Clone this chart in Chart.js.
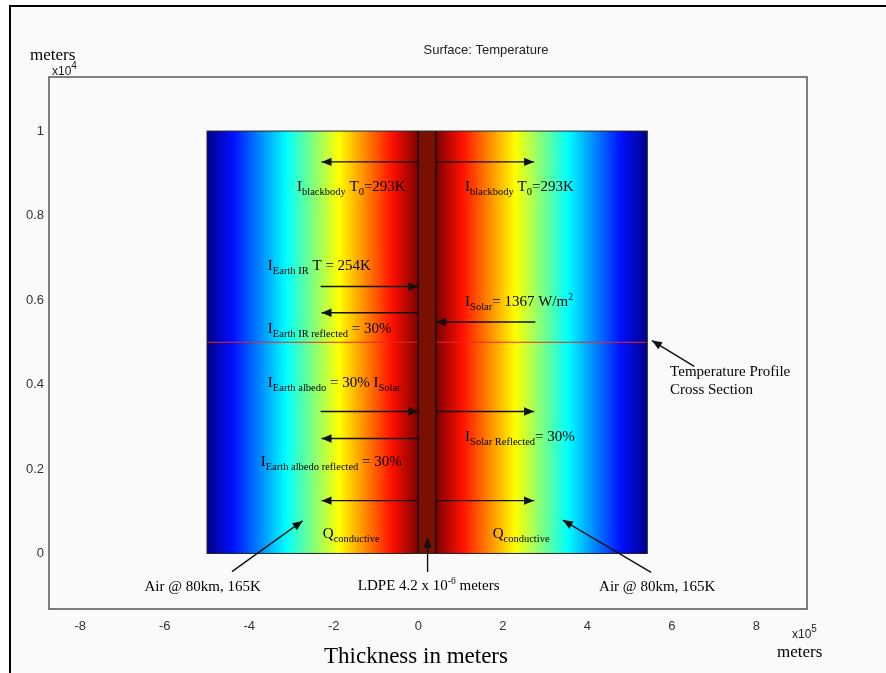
<!DOCTYPE html>
<html>
<head>
<meta charset="utf-8">
<title>Surface: Temperature</title>
<script src="https://cdn.jsdelivr.net/npm/chart.js@4.4.1/dist/chart.umd.min.js"></script>
<style>
  body { margin: 0; background: #fff; }
  #frame {
    position: absolute; left: 9px; top: 5px; width: 877px; height: 668px;
    border-left: 2px solid #000; border-top: 2px solid #000;
    background: #fafafa; box-sizing: border-box;
  }
  #chart { position: absolute; left: 0; top: 0; }
</style>
</head>
<body>
<div id="frame"></div>
<canvas id="chart" width="886" height="673"></canvas>
<script>
// axis ticks (x in 1e5 m, y in 1e4 m)
const xTicks = [-8, -6, -4, -2, 0, 2, 4, 6, 8];
const yTicks = [0, 0.2, 0.4, 0.6, 0.8, 1];
const yTickLabels = ["0", "0.2", "0.4", "0.6", "0.8", "1"];

// layer edges along x: air | LDPE film | air
const layerEdges = [-5, 0, 0.42, 5.42];
const layerSpanY = [0, 1];
const profileY = 0.5; // temperature profile cross section

// jet colour scale, cold -> hot
const jetStops = [0, 0.125, 0.375, 0.625, 0.875, 1];
const jetColors = ["#00008c", "#0010ff", "#00ffff", "#ffff00", "#ff1000", "#7d0000"];

// arrows: tail (x0,y0) -> head (x1,y1)
const arrowX0 = [0, 0.42, -2.31, 0, 2.77, -2.31, 0.42, 0, 0, 0.42, -4.41, 5.51, 0.22, 6.53];
const arrowY0 = [0.927, 0.927, 0.632, 0.570, 0.548, 0.336, 0.336, 0.272, 0.125, 0.125, -0.043, -0.045, -0.044, 0.443];
const arrowX1 = [-2.29, 2.74, 0, -2.29, 0.42, 0, 2.74, -2.29, -2.29, 2.74, -2.74, 3.42, 0.22, 5.53];
const arrowY1 = [0.927, 0.927, 0.632, 0.570, 0.548, 0.336, 0.336, 0.272, 0.125, 0.125, 0.077, 0.079, 0.037, 0.504];

// annotation text: [x, y, parts], parts are [text, "n" | "sub" | "sup"]
const notes = [
  [-2.87, 0.858, [["I", "n"], ["blackbody", "sub"], [" T", "n"], ["0", "sub"], ["=293K", "n"]]],
  [1.107, 0.858, [["I", "n"], ["blackbody", "sub"], [" T", "n"], ["0", "sub"], ["=293K", "n"]]],
  [-3.56, 0.670, [["I", "n"], ["Earth IR", "sub"], [" T = 254K", "n"]]],
  [-3.56, 0.523, [["I", "n"], ["Earth IR reflected", "sub"], [" = 30%", "n"]]],
  [1.107, 0.585, [["I", "n"], ["Solar", "sub"], ["= 1367 W/m", "n"], ["2", "sup"]]],
  [-3.56, 0.395, [["I", "n"], ["Earth albedo", "sub"], [" = 30% I", "n"], ["Solar", "sub"]]],
  [-3.73, 0.207, [["I", "n"], ["Earth albedo reflected", "sub"], [" = 30%", "n"]]],
  [1.107, 0.267, [["I", "n"], ["Solar Reflected", "sub"], ["= 30%", "n"]]],
  [-2.26, 0.037, [["Q", "n"], ["conductive", "sub"]]],
  [1.76, 0.037, [["Q", "n"], ["conductive", "sub"]]],
  [-6.48, -0.090, [["Air @ 80km, 165K", "n"]]],
  [4.28, -0.089, [["Air @ 80km, 165K", "n"]]],
  [-1.43, -0.087, [["LDPE 4.2 x 10", "n"], ["-6", "sup"], [" meters", "n"]]],
  [5.96, 0.419, [["Temperature Profile", "n"]]],
  [5.96, 0.378, [["Cross Section", "n"]]]
];

const serif = '"Liberation Serif", "Times New Roman", serif';
const sans = '"Liberation Sans", Arial, sans-serif';

const arrowSets = arrowX0.map((x0, i) => ({
  data: [{ x: x0, y: arrowY0[i] }, { x: arrowX1[i], y: arrowY1[i] }],
  showLine: true,
  borderColor: "#111",
  borderWidth: 1.4,
  pointRadius: 0
}));

function drawRich(ctx, x, y, parts) {
  let cx = x;
  ctx.textAlign = "left";
  ctx.textBaseline = "alphabetic";
  parts.forEach(([t, kind]) => {
    let size = 15, dy = 0;
    if (kind === "sub") { size = 10.5; dy = 4; }
    if (kind === "sup") { size = 9.5; dy = -6; }
    ctx.font = size + "px " + serif;
    ctx.fillText(t, cx, y + dy);
    cx += ctx.measureText(t).width;
  });
}

const slabPlugin = {
  id: "slab",
  beforeDatasetsDraw(chart) {
    const { ctx, chartArea: a, scales: { x, y } } = chart;
    const top = y.getPixelForValue(layerSpanY[1]);
    const bot = y.getPixelForValue(layerSpanY[0]);
    const px = layerEdges.map(v => x.getPixelForValue(v));
    ctx.save();

    // left air: cold at outer edge, hot at film
    let g = ctx.createLinearGradient(px[0], 0, px[1], 0);
    jetStops.forEach((s, i) => g.addColorStop(s, jetColors[i]));
    ctx.fillStyle = g;
    ctx.fillRect(px[0], top, px[1] - px[0], bot - top);

    // right air: hot at film, cold at outer edge
    g = ctx.createLinearGradient(px[3], 0, px[2], 0);
    jetStops.forEach((s, i) => g.addColorStop(s, jetColors[i]));
    ctx.fillStyle = g;
    ctx.fillRect(px[2], top, px[3] - px[2], bot - top);

    // cross section line
    const ry = y.getPixelForValue(profileY);
    ctx.strokeStyle = "#e8281a";
    ctx.lineWidth = 1.2;
    ctx.beginPath();
    ctx.moveTo(px[0], ry);
    ctx.lineTo(px[3], ry);
    ctx.stroke();

    // LDPE film
    ctx.fillStyle = "#7a1000";
    ctx.fillRect(px[1], top, px[2] - px[1], bot - top);
    ctx.strokeStyle = "#111";
    ctx.lineWidth = 1.5;
    ctx.beginPath();
    ctx.moveTo(px[1], top); ctx.lineTo(px[1], bot);
    ctx.moveTo(px[2], top); ctx.lineTo(px[2], bot);
    ctx.stroke();

    // slab outline
    ctx.strokeStyle = "#222";
    ctx.lineWidth = 1;
    ctx.strokeRect(px[0], top, px[3] - px[0], bot - top);

    // axes box
    ctx.strokeStyle = "#555";
    ctx.lineWidth = 1.5;
    ctx.strokeRect(a.left, a.top, a.right - a.left, a.bottom - a.top);
    ctx.restore();
  },
  afterDatasetsDraw(chart) {
    const { ctx, scales: { x, y } } = chart;
    ctx.save();
    ctx.fillStyle = "#111";
    chart.data.datasets.forEach((ds, i) => {
      const pts = chart.getDatasetMeta(i).data;
      const p0 = pts[0], p1 = pts[1];
      const ang = Math.atan2(p1.y - p0.y, p1.x - p0.x);
      const len = 10, half = 4.2;
      ctx.beginPath();
      ctx.moveTo(p1.x, p1.y);
      ctx.lineTo(p1.x - len * Math.cos(ang) + half * Math.sin(ang), p1.y - len * Math.sin(ang) - half * Math.cos(ang));
      ctx.lineTo(p1.x - len * Math.cos(ang) - half * Math.sin(ang), p1.y - len * Math.sin(ang) + half * Math.cos(ang));
      ctx.closePath();
      ctx.fill();
    });
    ctx.fillStyle = "#000";
    notes.forEach(([nx, ny, parts]) => {
      drawRich(ctx, x.getPixelForValue(nx), y.getPixelForValue(ny), parts);
    });
    ctx.restore();
  },
  afterDraw(chart) {
    const { ctx, chartArea: a } = chart;
    ctx.save();
    ctx.fillStyle = "#222";
    ctx.textAlign = "center";
    ctx.font = "13px " + sans;
    ctx.fillText("Surface: Temperature", 486, 54);

    ctx.fillStyle = "#000";
    ctx.textAlign = "left";
    ctx.font = "17px " + serif;
    ctx.fillText("meters", 30, 60);
    ctx.fillText("meters", 777, 657);
    ctx.font = "23px " + serif;
    ctx.fillText("Thickness in meters", 324, 663);

    ctx.fillStyle = "#222";
    ctx.font = "12px " + sans;
    ctx.fillText("x10", 52, 75);
    ctx.fillText("x10", a.right - 15, 638);
    ctx.font = "10px " + sans;
    ctx.fillText("4", 52 + ctx.measureText("x10").width * 1.2, 69);
    ctx.fillText("5", a.right - 15 + ctx.measureText("x10").width * 1.2, 632);
    ctx.restore();
  }
};

new Chart(document.getElementById("chart"), {
  type: "scatter",
  data: { datasets: arrowSets },
  options: {
    responsive: false,
    animation: false,
    layout: { padding: { left: 0, top: 77, right: 79, bottom: 0 } },
    plugins: { legend: { display: false }, tooltip: { enabled: false } },
    scales: {
      x: {
        type: "linear",
        min: -8.74,
        max: 9.2,
        grid: { display: false, drawTicks: false },
        border: { display: false },
        afterBuildTicks: s => { s.ticks = xTicks.map(v => ({ value: v })); },
        afterFit: s => { s.height = 64; },
        ticks: { color: "#333", font: { family: sans, size: 13 }, padding: 10, maxRotation: 0, autoSkip: false }
      },
      y: {
        type: "linear",
        min: -0.1315,
        max: 1.128,
        grid: { display: false, drawTicks: false },
        border: { display: false },
        afterBuildTicks: s => { s.ticks = yTicks.map(v => ({ value: v })); },
        afterFit: s => { s.width = 49; },
        ticks: { color: "#333", font: { family: sans, size: 13 }, padding: 5, callback: (v, i) => yTickLabels[i] }
      }
    }
  },
  plugins: [slabPlugin]
});
</script>
</body>
</html>
